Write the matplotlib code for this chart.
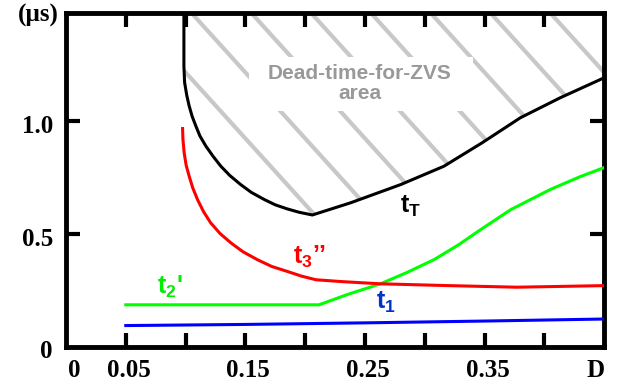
import numpy as np
import matplotlib.pyplot as plt
from matplotlib.patches import Polygon, Rectangle

plt.rcParams['mathtext.fontset'] = 'custom'
plt.rcParams['mathtext.rm'] = 'Liberation Sans:bold'
plt.rcParams['mathtext.it'] = 'Liberation Sans:bold'

# data (D, microseconds)
t1_x = [0.05, 0.15, 0.25, 0.35, 0.45]
t1_y = [0.095, 0.100, 0.107, 0.115, 0.124]

t2_x = [0.05, 0.2116, 0.235, 0.263, 0.285, 0.3077, 0.328, 0.3467, 0.372, 0.405, 0.43, 0.45]
t2_y = [0.187, 0.187, 0.232, 0.280, 0.330, 0.387, 0.452, 0.520, 0.609, 0.698, 0.755, 0.795]

t3_x = [0.0975, 0.0978, 0.0988, 0.1005, 0.103, 0.106, 0.110, 0.115, 0.121, 0.129, 0.138,
        0.148, 0.160, 0.172, 0.185, 0.197, 0.209, 0.230, 0.263, 0.320, 0.377, 0.45]
t3_y = [0.968, 0.920, 0.861, 0.805, 0.757, 0.705, 0.653, 0.600, 0.550, 0.502, 0.461,
        0.422, 0.387, 0.357, 0.335, 0.314, 0.298, 0.290, 0.280, 0.272, 0.265, 0.272]

tT_x = [0.0986, 0.0986, 0.0992, 0.101, 0.103, 0.1055, 0.1086, 0.112, 0.117, 0.123, 0.1295,
        0.137, 0.146, 0.155, 0.166, 0.175, 0.185, 0.195, 0.206, 0.238, 0.280, 0.316,
        0.348, 0.380, 0.4135, 0.45]
tT_y = [1.48, 1.244, 1.172, 1.115, 1.068, 1.022, 0.979, 0.935, 0.890, 0.845, 0.801,
        0.760, 0.720, 0.685, 0.653, 0.630, 0.612, 0.597, 0.585, 0.639, 0.720, 0.801,
        0.905, 1.016, 1.105, 1.193]

xtick_pos = [0.05, 0.10, 0.15, 0.20, 0.25, 0.30, 0.35, 0.40]
xlabel_pos = [0.007, 0.0525, 0.1525, 0.2525, 0.3525, 0.443]
xlabel_txt = ['0', '0.05', '0.15', '0.25', '0.35', 'D']
ytick_pos = [0.5, 1.0]
ylabel_pos = [0.0, 0.5, 1.0]
ylabel_txt = ['0', '0.5', '1.0']

XMAX, YMAX = 0.45, 1.48

fig = plt.figure(figsize=(6.19, 3.85), dpi=100)
ax = fig.add_axes([0.1066, 0.0987, 0.8694, 0.8675])
ax.set_xlim(0, XMAX)
ax.set_ylim(0, YMAX)

# hatched dead-time area above t_T
region = list(zip(tT_x, tT_y)) + [(XMAX, YMAX)]
poly = Polygon(region, closed=True, facecolor='none', edgecolor='none')
ax.add_patch(poly)
slope = -5.85
for x0 in np.arange(0.105 - 0.05 * 8, XMAX + 0.01, 0.05):
    xs = np.array([x0, x0 + YMAX / 5.85])
    ys = YMAX + slope * (xs - x0)
    ln, = ax.plot(xs, ys, color='#c8c8c8', lw=3, solid_capstyle='butt', zorder=1)
    ln.set_clip_path(poly)

# white box behind the area label
ax.add_patch(Rectangle((0.153, 1.044), 0.187, 0.240, facecolor='white',
                       edgecolor='none', zorder=2))
ax.text(0.2457, 1.166, 'Dead-time-for-ZVS\narea', ha='center', va='center',
        fontsize=15, fontweight='bold', family='Liberation Sans', color='#999999',
        linespacing=1.05, zorder=3)

ax.plot(t1_x, t1_y, color='#0000ff', lw=2.2, zorder=4)
ax.plot(t2_x, t2_y, color='#00ff00', lw=2.2, zorder=4)
ax.plot(t3_x, t3_y, color='#ff0000', lw=2.2, zorder=4)
ax.plot(tT_x, tT_y, color='black', lw=2.2, zorder=4)

lab = dict(fontsize=18, fontweight='bold', family='Liberation Sans', va='center', ha='left')
ax.text(0.279, 0.625, r't$_\mathrm{T}$', color='black', **lab)
ax.text(0.190, 0.40, r't$_\mathrm{3}$’’', color='#ff0000', **lab)
ax.text(0.076, 0.267, r"t$_\mathrm{2}$'", color='#00ee00', **lab)
ax.text(0.259, 0.196, r't$_\mathrm{1}$', color='#0033cc', **lab)

for s in ax.spines.values():
    s.set_linewidth(3.5)
ax.set_xticks(xtick_pos)
ax.set_yticks(ytick_pos)
ax.set_xticklabels([])
ax.set_yticklabels([])
ax.tick_params(direction='in', length=10, width=3, top=True, right=True)

tl = dict(fontsize=18, fontweight='bold', family='Liberation Serif')
for xp, t in zip(xlabel_pos, xlabel_txt):
    ax.text(xp, -0.102, t, ha='center', va='center', **tl)
for yp, t in zip(ylabel_pos, ylabel_txt):
    ax.text(-0.011, yp - 0.022, t, ha='right', va='center', **tl)
ax.text(-0.0234, 1.47, '(µs)', ha='center', va='center', **tl)

fig.savefig('out.png', dpi=100)
